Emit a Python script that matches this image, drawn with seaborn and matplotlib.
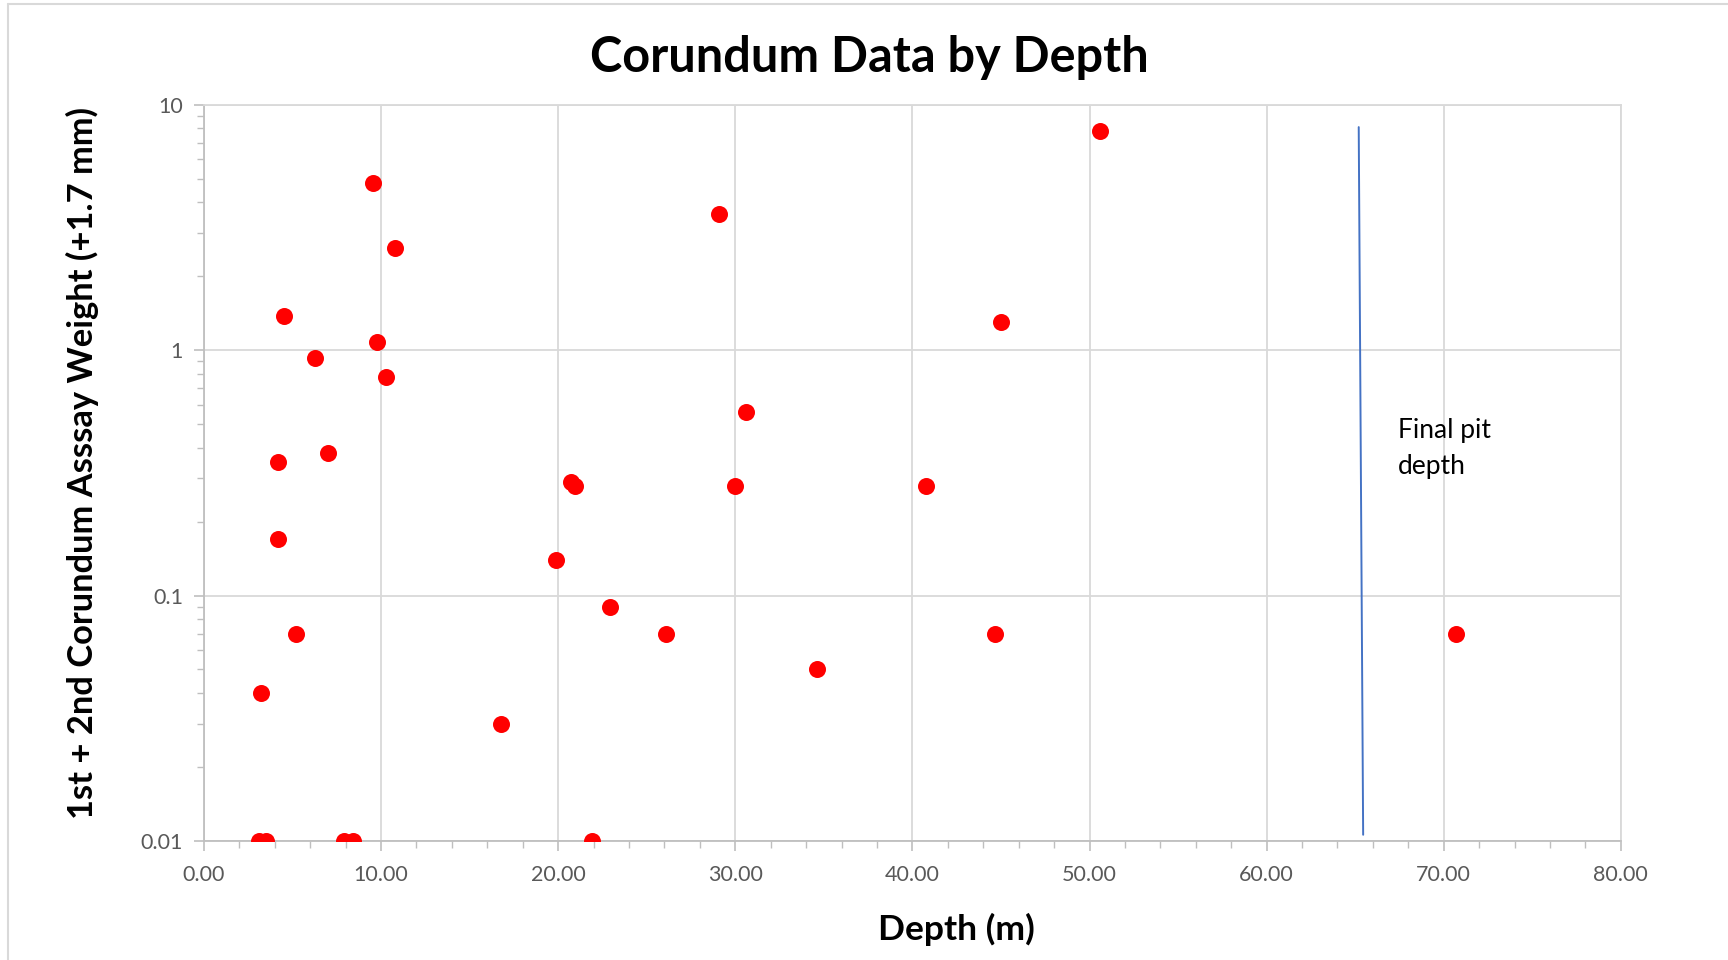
import matplotlib
matplotlib.use("Agg")
import matplotlib.pyplot as plt
import matplotlib.ticker as mticker
from matplotlib.lines import Line2D
import seaborn as sns
import pandas as pd

# ---- data ----
depth = [9.55, 10.8, 4.5, 9.8, 6.25, 10.3, 7.0, 4.2, 4.2, 5.2, 3.2,
         3.1, 3.5, 7.9, 8.4, 16.8, 19.9, 20.7, 20.95, 21.9, 22.9, 26.1,
         29.1, 30.0, 30.6, 34.6, 40.75, 44.65, 45.0, 50.6, 70.7]
weight = [4.8, 2.6, 1.38, 1.08, 0.93, 0.78, 0.38, 0.35, 0.17, 0.07, 0.04,
          0.01, 0.01, 0.01, 0.01, 0.03, 0.14, 0.29, 0.28, 0.01, 0.09, 0.07,
          3.6, 0.28, 0.56, 0.05, 0.28, 0.07, 1.3, 7.8, 0.07]
pit_line_x = [65.2, 65.45]
pit_line_y = [8.1, 0.0106]
pit_label = "Final pit\ndepth"
title = "Corundum Data by Depth"
xlabel = "Depth (m)"
ylabel = "1st + 2nd Corundum Asssay Weight (+1.7 mm)"
yticks = [0.01, 0.1, 1, 10]
ytick_labels = ["0.01", "0.1", "1", "10"]
xticks = [0, 10, 20, 30, 40, 50, 60, 70, 80]

df = pd.DataFrame({"Depth": depth, "Weight": weight})

sns.set_theme(style="white")
plt.rcParams["font.family"] = ["Lato", "DejaVu Sans"]

fig = plt.figure(figsize=(17.28, 9.6), dpi=100)
ax = fig.add_axes([0.118, 0.124, 0.820, 0.767])

grid_c = "#D9D9D9"
axis_c = "#BFBFBF"
tick_txt = "#595959"

sns.scatterplot(data=df, x="Depth", y="Weight", ax=ax, color="#FF0000",
                s=150, linewidth=0, zorder=3)

ax.plot(pit_line_x, pit_line_y, color="#4472C4", linewidth=1.4, zorder=2)
ax.text(67.4, 0.53, pit_label, fontsize=19, color="black", va="top",
        ha="left", linespacing=1.55)

ax.set_yscale("log")
ax.set_ylim(0.01, 10)
ax.set_xlim(0, 80)
ax.set_yticks(yticks)
ax.set_yticklabels(ytick_labels)
ax.yaxis.set_minor_locator(mticker.LogLocator(base=10, subs=range(2, 10)))
ax.yaxis.set_minor_formatter(mticker.NullFormatter())
ax.set_xticks(xticks)
ax.xaxis.set_major_formatter(mticker.FormatStrFormatter("%.2f"))
ax.xaxis.set_minor_locator(mticker.MultipleLocator(2))

ax.grid(True, which="major", color=grid_c, linewidth=1.3)
ax.set_axisbelow(True)

for side in ["top", "right"]:
    ax.spines[side].set_color(grid_c)
    ax.spines[side].set_linewidth(1.3)
for side in ["bottom", "left"]:
    ax.spines[side].set_color(axis_c)
    ax.spines[side].set_linewidth(1.3)

ax.tick_params(axis="both", which="major", direction="out", length=7,
               width=1.2, color=axis_c, labelsize=15.5, labelcolor=tick_txt)
ax.tick_params(axis="both", which="minor", direction="out", length=5,
               width=1.0, color=axis_c)
ax.tick_params(axis="x", which="major", pad=10)
ax.tick_params(axis="y", which="major", pad=8)
ax.tick_params(left=True, bottom=True, which="both")

ax.set_xlabel("")
ax.set_ylabel("")
fig.text(0.5535, 0.032, xlabel, fontsize=25.5, fontweight="bold", color="black",
         ha="center", va="center")
fig.text(0.0475, 0.518, ylabel, fontsize=24.8, fontweight="bold", color="black",
         ha="center", va="center", rotation=90)
fig.text(0.503, 0.94, title, fontsize=35, fontweight="bold", color="black",
         ha="center", va="center")

# outer chart border (partially visible in the reference)
fig.add_artist(Line2D([0.0045, 0.0045], [0.0, 0.9955], transform=fig.transFigure,
                      color="#D9D9D9", linewidth=1.5))
fig.add_artist(Line2D([0.0045, 1.0], [0.9955, 0.9955], transform=fig.transFigure,
                      color="#D9D9D9", linewidth=1.5))

fig.savefig("out.png", dpi=100)
